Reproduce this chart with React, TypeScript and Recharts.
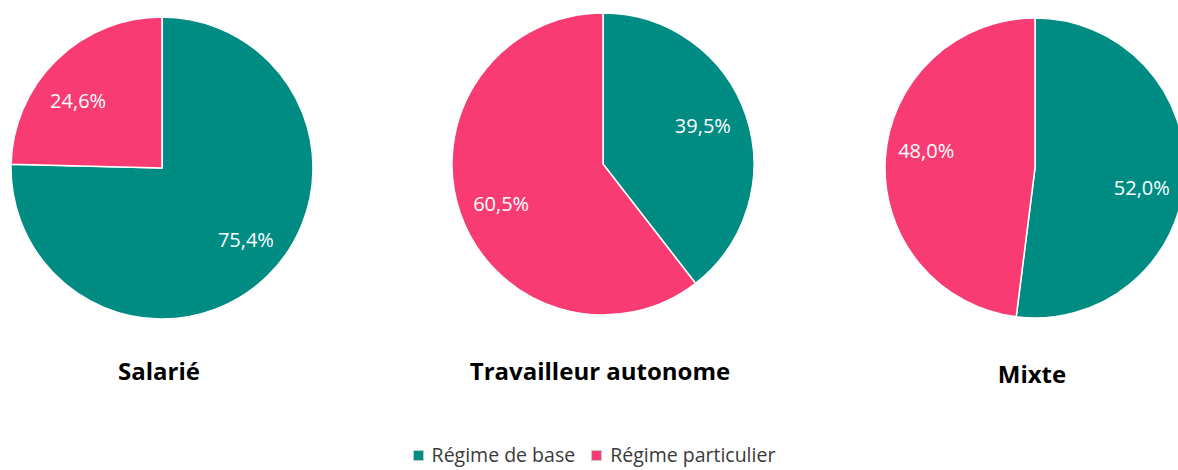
import React from 'react';
import { PieChart, Pie, Cell, Legend } from 'recharts';

const groups = ['Salarié', 'Travailleur autonome', 'Mixte'];
const categories = ['Régime de base', 'Régime particulier'];
const regimeBase = [75.4, 39.5, 52.0];
const regimeParticulier = [24.6, 60.5, 48.0];

const COLORS = ['#008B83', '#F83C73'];
const FONT = '"Open Sans", sans-serif';

// pie placement, roughly how the source report laid them out
const pieSpots = [
  { cx: 162, cy: 168, r: 151, titleX: 159, titleBase: 380 },
  { cx: 603, cy: 164, r: 151, titleX: 600, titleBase: 380 },
  { cx: 1035, cy: 168, r: 150, titleX: 1032, titleBase: 383 },
];

// small text nudges per pie / slice, Excel doesn't put labels exactly on the bisector
const labelNudge = [
  [[8, -6], [-8, 10]],
  [[-3, -3], [1, 4]],
  [[-1, 13], [-1, -11]],
];

const RADIAN = Math.PI / 180;

const makeLabel = (gi: number) => (props: any) => {
  const { cx, cy, midAngle, outerRadius, value, index } = props;
  const r = outerRadius * 0.72;
  const [dx, dy] = labelNudge[gi][index];
  const x = cx + r * Math.cos(-midAngle * RADIAN) + dx;
  const y = cy + r * Math.sin(-midAngle * RADIAN) + dy;
  return (
    <text x={x} y={y} fill="#fff" textAnchor="middle" dominantBaseline="central" fontSize={20} fontFamily={FONT}>
      {value.toFixed(1).replace('.', ',')}%
    </text>
  );
};

const renderLegend = () => (
  <div style={{ display: 'flex', justifyContent: 'center', gap: 16, fontFamily: FONT, fontSize: 19.5, lineHeight: '26px', color: '#3a3a3a', paddingLeft: 10 }}>
    {categories.map((c, i) => (
      <span key={c} style={{ display: 'flex', alignItems: 'center' }}>
        <span style={{ width: 9, height: 9, background: COLORS[i], border: '1px solid #c8c8c8', marginRight: 8 }} />
        {c}
      </span>
    ))}
  </div>
);

export default function App() {
  return (
    <div style={{ position: 'absolute', left: 0, top: 0, width: 1178, height: 470, background: '#fff', overflow: 'hidden' }}>
      <PieChart width={1178} height={470} margin={{ top: 0, right: 0, bottom: 0, left: 0 }}>
        {groups.map((g, gi) => {
          const data = categories.map((c, ci) => ({
            name: c,
            value: ci === 0 ? regimeBase[gi] : regimeParticulier[gi],
          }));
          const s = pieSpots[gi];
          return (
            <Pie
              key={g}
              data={data}
              dataKey="value"
              nameKey="name"
              cx={s.cx}
              cy={s.cy}
              outerRadius={s.r}
              startAngle={90}
              endAngle={-270}
              stroke="#fff"
              strokeWidth={1.5}
              label={makeLabel(gi)}
              labelLine={false}
              isAnimationActive={false}
            >
              {data.map((d, i) => (
                <Cell key={d.name} fill={COLORS[i]} />
              ))}
            </Pie>
          );
        })}
        <Legend content={renderLegend} wrapperStyle={{ top: 442, left: 0, width: 1178 }} />
      </PieChart>
      {groups.map((g, gi) => (
        <div
          key={g}
          style={{
            position: 'absolute',
            left: pieSpots[gi].titleX - 200,
            width: 400,
            top: pieSpots[gi].titleBase - 21.3,
            textAlign: 'center',
            fontFamily: FONT,
            fontWeight: 700,
            fontSize: 24,
            lineHeight: '24px',
            color: '#000',
          }}
        >
          {g}
        </div>
      ))}
    </div>
  );
}
